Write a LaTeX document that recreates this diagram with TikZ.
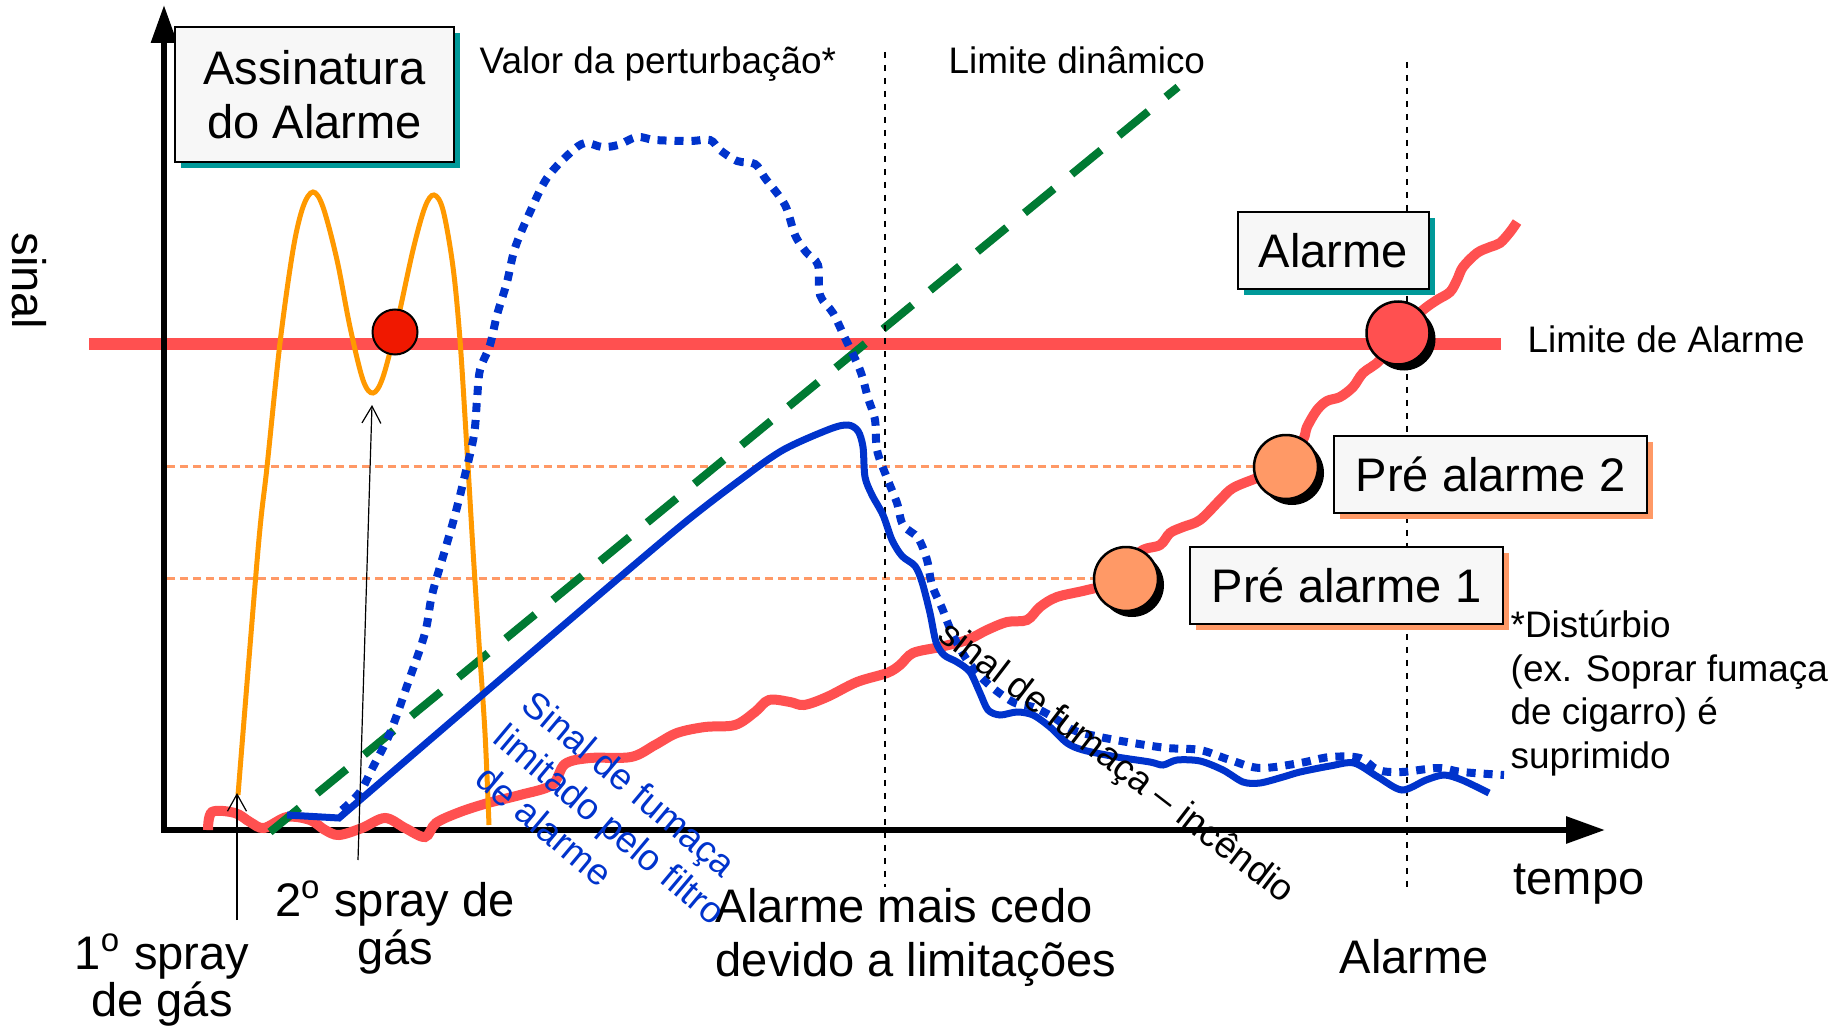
\documentclass[tikz,border=0pt]{standalone}
\usepackage{fontspec}
\setmainfont{Liberation Sans}
\usetikzlibrary{arrows.meta,shadows,positioning}

\definecolor{limred}{HTML}{FF5050}
\definecolor{dotred}{HTML}{F01800}
\definecolor{sigblue}{HTML}{0033CC}
\definecolor{gasorange}{HTML}{FF9900}
\definecolor{preorange}{HTML}{FF9966}
\definecolor{dyngreen}{HTML}{007A33}
\definecolor{boxteal}{HTML}{009999}
\definecolor{boxfill}{HTML}{F7F7F7}

\begin{document}
\begin{tikzpicture}[x=0.1mm,y=-0.1mm,
	lbl/.style={font=\fontsize{13.4pt}{15.6pt}\selectfont,inner sep=0pt},
	note/.style={font=\fontsize{10.5pt}{12pt}\selectfont,inner sep=0pt},
	plainbox/.style={draw,line width=0.25mm,fill=boxfill,inner sep=0pt,lbl,align=center},
	tealbox/.style={plainbox,drop shadow={shadow xshift=0.6mm,shadow yshift=-0.6mm,fill=boxteal,opacity=1}},
	salmonbox/.style={plainbox,drop shadow={shadow xshift=0.6mm,shadow yshift=-0.6mm,fill=preorange,opacity=1}},
	level/.style={circle,draw,line width=0.25mm,inner sep=0pt,minimum size=6.4mm,drop shadow={shadow xshift=0.6mm,shadow yshift=-0.6mm,fill=black,opacity=1}},
	guide/.style={line width=0.25mm,dash pattern=on 0.6mm off 0.7mm},
	prelevel/.style={preorange,line width=0.3mm,dash pattern=on 0.8mm off 0.5mm},
	pointer/.style={line width=0.12mm,-{Straight Barb[length=1.7mm,width=1.9mm]}}
	]
					\useasboundingbox (0,0) rectangle (1837,1027);

					\coordinate (origo) at (164,830);
					\coordinate (ytop) at (164,5);
					\coordinate (xend) at (1605,830);

					\coordinate (pre2lvl) at (167,466);
					\coordinate (pre2end) at (1254,466);
					\coordinate (pre1lvl) at (167,578);
					\coordinate (pre1end) at (1094,578);
					\draw[prelevel] (pre2lvl) -- (pre2end);
					\draw[prelevel] (pre1lvl) -- (pre1end);

					\coordinate (limstart) at (89,344);
					\coordinate (limend) at (1501,344);
					\draw[limred,line width=1.2mm] (limstart) -- (limend);

					\draw[line width=0.6mm,{Triangle[length=3.8mm,width=2.5mm]}-{Triangle[length=3.9mm,width=2.6mm]}] (ytop) -- (origo) -- (xend);

					\draw[limred,line width=1mm] plot[smooth,tension=0.55] coordinates {(208,830) (212,812) (235,813) (250,822) (264,828) (287,817) (310,820) (325,830) (339,835) (362,828) (385,818) (405,828) (425,837) (436,823) (460,812) (488,803) (520,795) (552,785) (565,764) (590,758) (631,757) (655,745) (677,733) (705,727) (735,725) (755,712) (769,700) (790,702) (804,705) (827,697) (857,682) (887,673) (900,665) (913,653) (940,647) (967,640) (987,630) (1007,622) (1027,620) (1040,607) (1057,597) (1087,590) (1126,579) (1140,552) (1160,545) (1170,533) (1183,527) (1200,520) (1220,500) (1233,488) (1257,478) (1286,467) (1303,440) (1307,427) (1317,410) (1327,401) (1340,397) (1353,387) (1363,373) (1380,360) (1398,333) (1423,310) (1437,300) (1450,292) (1457,280) (1463,267) (1477,253) (1490,247) (1500,243) (1510,232) (1517,222)};

					\coordinate (dynstart) at (270,832);
					\coordinate (dynend) at (1178,87);
					\draw[dyngreen,line width=0.8mm,dash pattern=on 3.8mm off 2.3mm] (dynstart) -- (dynend);

					\coordinate (earlytop) at (885,52);
					\coordinate (earlybot) at (885,887);
					\coordinate (alarmtop) at (1407,62);
					\coordinate (alarmbot) at (1407,887);
					\draw[guide] (earlytop) -- (earlybot);
					\draw[guide] (alarmtop) -- (alarmbot);

					\draw[gasorange,line width=0.5mm] plot[smooth,tension=0.55] coordinates {(238,795) (258,550) (267,467) (280,343) (293,250) (303,207) (313,192) (323,207) (337,260) (350,327) (363,380) (373,393) (383,377) (397,323) (413,250) (425,207) (434,195) (443,210) (453,267) (460,340) (467,450) (473,550) (479,643) (485,733) (489,825)};

					\node[circle,draw,line width=0.2mm,fill=dotred,inner sep=0pt,minimum size=4.5mm] (gasdot) at (395,332) {};

					\draw[sigblue,line width=0.8mm,dash pattern=on 0.9mm off 0.8mm] plot[smooth,tension=0.55] coordinates {(342,810) (360,792) (373,767) (390,733) (408,683) (425,633) (432,595) (445,550) (455,515) (465,475) (474,435) (477,400) (480,370) (490,345) (497,315) (507,282) (515,248) (530,212) (547,178) (570,153) (585,143) (602,147) (618,145) (637,137) (655,140) (690,141) (710,140) (720,150) (737,161) (755,164) (765,178) (785,205) (795,235) (806,252) (818,265) (820,295) (833,313) (845,338) (860,370) (868,398) (875,420) (877,450) (887,478) (897,503) (903,525) (918,538) (927,560) (932,585) (942,608) (952,633) (967,660) (987,683) (1013,702) (1033,707) (1053,717) (1073,730) (1100,737) (1133,743) (1167,748) (1200,750) (1230,760) (1260,768) (1300,763) (1330,757) (1360,758) (1378,770) (1402,772) (1438,768) (1462,772) (1504,775)};

					\draw[sigblue,line width=0.7mm] (287,815) -- plot[smooth,tension=0.5] coordinates {(339,818) (460,714) (593,600) (683,524) (740,480) (783,450) (830,429) (848,425) (858,431) (863,447) (865,477) (872,495) (883,515) (892,540) (902,556) (915,566) (922,582) (930,613) (936,642) (944,655) (957,662) (970,672) (980,693) (988,710) (1000,715) (1017,712) (1033,715) (1050,727) (1067,743) (1083,750) (1117,757) (1150,762) (1163,765) (1177,760) (1200,761) (1223,770) (1243,782) (1260,783) (1283,777) (1300,772) (1330,766) (1354,763) (1378,777) (1402,790) (1426,780) (1444,775) (1462,780) (1489,793)};

					\node[level,fill=limred,minimum size=6.3mm] (alarmdot) at (1398,333) {};
					\node[level,fill=preorange] (pre2dot) at (1286,467) {};
					\node[level,fill=preorange] (pre1dot) at (1126,579) {};

					\node[tealbox,minimum width=27.9mm,minimum height=13.5mm,font=\fontsize{13.4pt}{15.4pt}\selectfont] (assinatura) at (314.5,94.5) {Assinatura\\do Alarme};
					\node[tealbox,minimum width=19.1mm,minimum height=7.7mm] (alarmbox) at (1333.5,250.5) {Alarme};
					\node[salmonbox,minimum width=31.3mm,minimum height=7.7mm] (pre2box) at (1490.5,474.5) {Pré alarme 2};
					\node[salmonbox,minimum width=31.3mm,minimum height=7.7mm] (pre1box) at (1346.5,585.5) {Pré alarme 1};

					\node[lbl,rotate=-90] (sinal) at (29,281) {sinal};
					\node[lbl,anchor=base west] (tempo) at (1513,894) {tempo};
					\node[note,anchor=base west] (valor) at (479,74) {Valor da perturbação*};
					\node[note,anchor=base west] (dinamico) at (948,74) {Limite dinâmico};
					\node[note,anchor=base west] (limite) at (1527,353) {Limite de Alarme};
					\node[lbl,anchor=base west] (alarme) at (1339,973) {Alarme};
					\node[lbl,align=center,anchor=north,font=\fontsize{13.4pt}{13.4pt}\selectfont] (spray1) at (162,933) {1\textsuperscript{o} spray\\de gás};
					\node[lbl,align=center,anchor=north,font=\fontsize{13.4pt}{13.7pt}\selectfont] (spray2) at (395,880) {2\textsuperscript{o} spray de\\gás};
					\node[lbl,align=left,anchor=north west,font=\fontsize{13.4pt}{15.4pt}\selectfont] (cedo) at (715,888) {Alarme mais cedo\\devido a limitações};
					\node[note,align=left,anchor=north west,font=\fontsize{10.5pt}{12.35pt}\selectfont] (disturbio) at (1510,610) {*Distúrbio\\(ex. Soprar fumaça\\de cigarro) é\\suprimido};
					\node[note,align=left,anchor=north west,rotate=-40,text=sigblue,font=\fontsize{10.5pt}{12.4pt}\selectfont] (filtrado) at (537,687) {Sinal de fumaça\\limitado pelo filtro\\\hspace*{1.2mm}de alarme};
					\node[note,anchor=base west,rotate=-37.5] (incendio) at (936,638) {sinal de fumaça – incêndio};

					\coordinate (tip1) at (237,793);
					\coordinate (foot1) at (237,920);
					\coordinate (tip2) at (372,405);
					\coordinate (foot2) at (358,860);
					\draw[pointer] (foot1) -- (tip1);
					\draw[pointer] (foot2) -- (tip2);
				\end{tikzpicture}
\end{document}
